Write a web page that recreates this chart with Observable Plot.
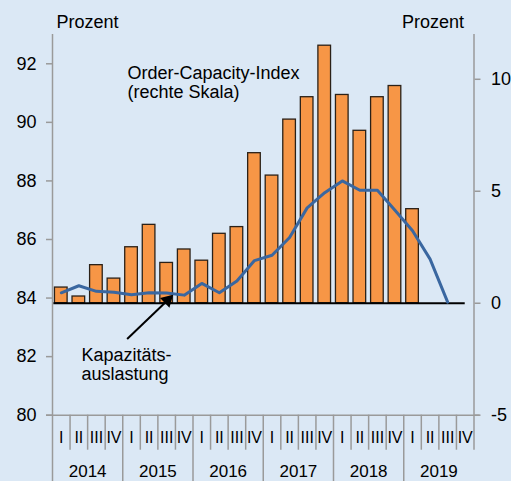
<!DOCTYPE html>
<html>
<head>
<meta charset="utf-8">
<script src="https://cdn.jsdelivr.net/npm/d3@7"></script>
<script src="https://cdn.jsdelivr.net/npm/@observablehq/plot@0.6"></script>
<style>
  html, body { margin: 0; padding: 0; background: #dbe8f5; }
  #chart svg { display: block; }
</style>
</head>
<body>
<div id="chart"></div>
<script>
// ---- Data ----
const years = [2014, 2015, 2016, 2017, 2018, 2019];
const quarterLabels = ["I", "II", "III", "IV"];
// Order-Capacity-Index (right scale), 2014Q1 .. 2019Q1
const orderCapacity = [0.7, 0.3, 1.7, 1.1, 2.5, 3.5, 1.8, 2.4, 1.9, 3.1, 3.4, 6.7,
                       5.7, 8.2, 9.2, 11.5, 9.3, 7.7, 9.2, 9.7, 4.2];
// Kapazitätsauslastung (left scale), 2014Q1 .. 2019Q3
const capacity = [84.18, 84.42, 84.23, 84.20, 84.11, 84.18, 84.17, 84.10, 84.50, 84.18, 84.58, 85.28,
                  85.46, 86.07, 87.08, 87.60, 88.00, 87.68, 87.68, 87.00, 86.30, 85.33, 83.86];
const leftTicks = [80, 82, 84, 86, 88, 90, 92];
const rightTicks = [-5, 0, 5, 10];
const leftDomain = [80, 93];
const rightDomain = [-5, 12];

// map right-scale values onto the left scale
const toLeft = r => leftDomain[0] + (r - rightDomain[0]) * (leftDomain[1] - leftDomain[0]) / (rightDomain[1] - rightDomain[0]);
const toRight = l => rightDomain[0] + (l - leftDomain[0]) * (rightDomain[1] - rightDomain[0]) / (leftDomain[1] - leftDomain[0]);

const periods = years.flatMap(y => quarterLabels.map(q => ({year: y, q})));
periods.forEach((d, i) => d.i = i);
const bars = orderCapacity.map((v, i) => ({i, v}));
const line = capacity.map((v, i) => ({i, v}));
const boundaries = d3.range(periods.length + 1).map(i => i - 0.5);
const yearBounds = boundaries.filter((b, k) => k % 4 === 0 && k < periods.length);
const quarterBounds = boundaries.filter((b, k) => !(k % 4 === 0 && k < periods.length));
const yearData = years.map((y, k) => ({y, x: k * 4 + 1.5}));

const gray = "#9a9a9a";
const font = "'Liberation Sans', Arial, sans-serif";

const chart = Plot.plot({
  width: 511,
  height: 481,
  marginTop: 34,
  marginBottom: 66.3,
  marginLeft: 52,
  marginRight: 37.5,
  style: {background: "#dbe8f5", fontFamily: font, fontSize: "18px", color: "#000"},
  x: {type: "linear", domain: [-0.5, periods.length - 0.5], axis: null},
  y: {domain: leftDomain, axis: null},
  marks: [
    // frame lines
    Plot.ruleY([leftDomain[0]], {stroke: gray, strokeWidth: 1.5, insetLeft: -6, insetRight: -6}),
    Plot.ruleX([boundaries[0]], {stroke: gray, strokeWidth: 1.5, insetBottom: -66.3}),
    Plot.ruleX(yearBounds.slice(1), {y1: leftDomain[0], y2: leftDomain[0], stroke: gray, strokeWidth: 1.5, insetBottom: -66.3}),
    Plot.ruleX(quarterBounds.slice(0, -1), {y1: leftDomain[0], y2: leftDomain[0], stroke: gray, strokeWidth: 1.5, insetBottom: -35}),
    Plot.ruleX([boundaries[boundaries.length - 1]], {stroke: gray, strokeWidth: 1.5, insetBottom: -35}),
    // axes
    Plot.axisY(leftTicks, {anchor: "left", tickSize: 6, tickPadding: 10, stroke: gray, strokeWidth: 1.5, fill: "#000", fontSize: 18, label: null}),
    Plot.axisY(rightTicks.map(toLeft), {anchor: "right", tickSize: 6, tickPadding: 11, stroke: gray, strokeWidth: 1.5, fill: "#000", fontSize: 18, label: null,
      tickFormat: d => String(Math.round(toRight(d)))}),
    // bars: Order-Capacity-Index
    Plot.rectY(bars, {x1: d => d.i - 0.36, x2: d => d.i + 0.36, y1: () => toLeft(0), y2: d => toLeft(d.v),
      fill: "#f79646", stroke: "#2b2118", strokeWidth: 1.3}),
    // zero line
    Plot.ruleY([toLeft(0)], {x1: -0.42, x2: periods.length - 1, stroke: "#000", strokeWidth: 2.2}),
    // line: Kapazitätsauslastung
    Plot.line(line, {x: "i", y: "v", stroke: "#3a67a0", strokeWidth: 3, strokeLinejoin: "round"}),
    // x labels
    Plot.text(periods, {x: "i", y: () => leftDomain[0], text: "q", dy: 23, fontSize: 16, fill: "#000"}),
    Plot.text(yearData, {x: "x", y: () => leftDomain[0], text: d => String(d.y), dy: 56, fontSize: 17, fill: "#000"}),
    // unit labels
    Plot.text(["Prozent"], {frameAnchor: "top-left", textAnchor: "start", lineAnchor: "bottom", dx: 4, dy: -7, fontSize: 18, fill: "#000"}),
    Plot.text(["Prozent"], {frameAnchor: "top-right", textAnchor: "end", lineAnchor: "bottom", dx: -10, dy: -7, fontSize: 18, fill: "#000"}),
    // annotations
    Plot.text(["Order-Capacity-Index\n(rechte Skala)"], {x: 3.77, y: 91.94, textAnchor: "start", lineAnchor: "top", lineHeight: 1.07, fontSize: 18, fill: "#000"}),
    Plot.text(["Kapazitäts-\nauslastung"], {x: 1.15, y: 82.33, textAnchor: "start", lineAnchor: "top", lineHeight: 1.06, fontSize: 18, fill: "#000"}),
    Plot.link([{x1: 3.75, y1: 82.60, x2: 6.1, y2: 83.95}], {x1: "x1", y1: "y1", x2: "x2", y2: "y2", stroke: "#000", strokeWidth: 2}),
    Plot.dot([{x: 6.05, y: 83.93}], {x: "x", y: "y", symbol: "triangle", r: 5, rotate: 46, fill: "#000", stroke: "none"})
  ]
});
document.getElementById("chart").appendChild(chart);
</script>
</body>
</html>
